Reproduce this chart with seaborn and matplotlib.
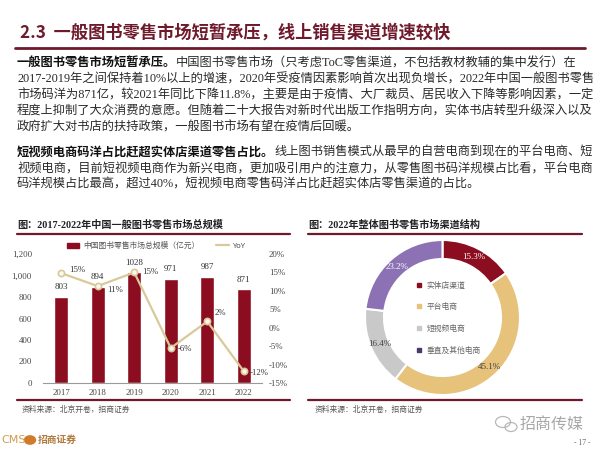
import matplotlib
matplotlib.use("Agg")
import matplotlib.pyplot as plt
import seaborn as sns
import numpy as np
from matplotlib.patches import Patch, Ellipse
from matplotlib.lines import Line2D

sns.set_theme(style="white")
CJK = "Noto Sans CJK SC"
SERIF = ["Liberation Serif", CJK]
plt.rcParams["font.family"] = [CJK, "DejaVu Sans"]

# ---------------- data ----------------
years = ["2017", "2018", "2019", "2020", "2021", "2022"]
market = [803, 894, 1028, 971, 987, 871]
yoy = [14.8, 11.3, 15.0, -5.5, 1.7, -11.8]
yoy_labels = ["15%", "11%", "15%", "-6%", "2%", "-12%"]
left_ticks = [0, 200, 400, 600, 800, 1000, 1200]
right_ticks = [-15, -10, -5, 0, 5, 10, 15, 20]

channels = ["实体店渠道", "平台电商", "短视频电商", "垂直及其他电商"]
shares = [15.3, 45.1, 16.4, 23.2]

RED = "#8c0d1f"
MAROON = "#6e1a2c"
TAN = "#d9c99a"
GOLD = "#e7c27b"
GRAY = "#c9c9c9"
PURPLE = "#8d71b5"
TXT = "#2a2a2a"

W, H = 600, 450
fig = plt.figure(figsize=(6, 4.5), dpi=100)
fig.patch.set_facecolor("white")


def fx(x):
    return x / W


def fy(y):
    return 1 - y / H


def hline(x0, x1, y, color=MAROON, lw=1.6):
    fig.add_artist(Line2D([fx(x0), fx(x1)], [fy(y), fy(y)], color=color, lw=lw,
                          transform=fig.transFigure))


# ---------------- header ----------------
fig.text(fx(20), fy(33), "2.3  一般图书零售市场短暂承压，线上销售渠道增速较快",
         fontsize=12.4, fontweight="bold", color=MAROON, va="center", ha="left",
         family=[CJK, "DejaVu Sans"])
hline(15, 585, 48, lw=2)

# ---------------- body text ----------------
renderer = fig.canvas.get_renderer()
BODY_FS = 8.8


def para_line(y, text, bold=None):
    x = fx(17)
    if bold:
        t = fig.text(x, fy(y), bold, fontsize=BODY_FS, fontweight="bold", color="#111",
                     va="center", ha="left", family=SERIF)
        bb = t.get_window_extent(renderer=renderer)
        x = bb.x1 / fig.bbox.width
    fig.text(x, fy(y), text, fontsize=BODY_FS, color=TXT, va="center", ha="left",
             family=SERIF)


para_line(63, "中国图书零售市场（只考虑ToC零售渠道，不包括教材教辅的集中发行）在",
          bold="一般图书零售市场短暂承压。")
para_line(79, "2017-2019年之间保持着10%以上的增速，2020年受疫情因素影响首次出现负增长，2022年中国一般图书零售")
para_line(95, "市场码洋为871亿，较2021年同比下降11.8%，主要是由于疫情、大厂裁员、居民收入下降等影响因素，一定")
para_line(111, "程度上抑制了大众消费的意愿。但随着二十大报告对新时代出版工作指明方向，实体书店转型升级深入以及")
para_line(127, "政府扩大对书店的扶持政策，一般图书市场有望在疫情后回暖。")
para_line(153, "线上图书销售模式从最早的自营电商到现在的平台电商、短",
          bold="短视频电商码洋占比赶超实体店渠道零售占比。")
para_line(169, "视频电商，目前短视频电商作为新兴电商，更加吸引用户的注意力，从零售图书码洋规模占比看，平台电商")
para_line(185, "码洋规模占比最高，超过40%，短视频电商零售码洋占比赶超实体店零售渠道的占比。")

# ---------------- left chart ----------------
fig.text(fx(17), fy(225), "图：2017-2022年中国一般图书零售市场总规模", fontsize=7.3,
         fontweight="bold", color="#222", va="center", ha="left", family=SERIF)
hline(17, 290, 234)

ax = fig.add_axes([fx(43), fy(383), fx(262) - fx(43), (383 - 254) / H])
sns.barplot(x=years, y=market, color=RED, saturation=1, width=0.38, ax=ax)
ax.set_ylim(0, 1200)
ax.set_yticks(left_ticks)
ax.set_yticklabels([f"{v:,}" for v in left_ticks])
ax.set_xlabel("")
ax.set_ylabel("")
for s in ["top", "right", "left"]:
    ax.spines[s].set_visible(False)
ax.spines["bottom"].set_color("#9a9a9a")
ax.spines["bottom"].set_linewidth(0.8)
ax.tick_params(axis="both", length=0, labelsize=6.3, colors="#444")
ax.tick_params(axis="y", pad=8)
ax.tick_params(axis="x", pad=4)
for lab in ax.get_xticklabels() + ax.get_yticklabels():
    lab.set_family(SERIF)
for i, v in enumerate(market):
    ax.annotate(str(v), (i, v), xytext=(0, 4), textcoords="offset points",
                ha="center", va="bottom", fontsize=6.5, color="#333", family=SERIF)

ax2 = ax.twinx()
sns.pointplot(x=years, y=yoy, ax=ax2, color=TAN, markers="o", markersize=4.5,
              linewidth=1.6, markerfacecolor="#fbf6f0", markeredgecolor=TAN,
              markeredgewidth=1.2)
ax2.set_ylim(-15, 20)
ax2.set_yticks(right_ticks)
ax2.set_yticklabels([f"{v}%" for v in right_ticks])
ax2.set_ylabel("")
for s in ["top", "right", "left", "bottom"]:
    ax2.spines[s].set_visible(False)
ax2.tick_params(axis="y", length=0, labelsize=6.3, colors="#444", pad=5)
for lab in ax2.get_yticklabels():
    lab.set_family(SERIF)
ax.set_xlim(-0.5, 5.5)
offsets = [(6, 2), (7, -3), (6, 0), (5, -1), (5, 6), (4, -1)]
for i, (v, lab) in enumerate(zip(yoy, yoy_labels)):
    dx, dy = offsets[i]
    ax2.annotate(lab, (i, v), xytext=(dx, dy), textcoords="offset points",
                 ha="left", va="center", fontsize=6.3, color="#333", family=SERIF)

handles = [Patch(facecolor=RED, edgecolor=RED),
           Line2D([], [], color=TAN, lw=1.6)]
fig.legend(handles, ["中国图书零售市场总规模（亿元）", "YoY"], loc="center",
           bbox_to_anchor=(fx(156), fy(246)), bbox_transform=fig.transFigure, ncol=2,
           frameon=False, fontsize=5.6, handlelength=1.6, handleheight=0.7,
           columnspacing=2.2, handletextpad=0.5, labelcolor="#555")

hline(17, 290, 400)
fig.text(fx(22), fy(410), "资料来源：北京开卷，招商证券", fontsize=5.6, color="#555",
         va="center", ha="left")

# ---------------- right chart ----------------
fig.text(fx(308), fy(225), "图：2022年整体图书零售市场渠道结构", fontsize=7.3,
         fontweight="bold", color="#222", va="center", ha="left", family=SERIF)
hline(308, 582, 234)

R = 80
axp = fig.add_axes([fx(442.5 - R), fy(317.5 + R), 2 * R / W, 2 * R / H])
wedges, _ = axp.pie(shares, colors=[RED, GOLD, GRAY, PURPLE], startangle=90,
                    counterclock=False, radius=77.5 / R,
                    wedgeprops=dict(width=19 / R, edgecolor="white", linewidth=1.5))
axp.set_xlim(-1, 1)
axp.set_ylim(-1, 1)
axp.set_aspect("equal")
axp.axis("off")
lab_colors = ["white", "#444", "#444", "white"]
rmid = (77.5 - 9.5) / R
for w, s, c in zip(wedges, shares, lab_colors):
    ang = np.deg2rad((w.theta1 + w.theta2) / 2)
    axp.text(rmid * np.cos(ang), rmid * np.sin(ang), f"{s}%", ha="center",
             va="center", fontsize=6.5, color=c, family=SERIF)

leg_handles = [Line2D([], [], marker="s", ls="", color=c, markersize=2.2)
               for c in [RED, GOLD, GRAY, "#4a3a6a"]]
fig.legend(leg_handles, channels, loc="center left",
           bbox_to_anchor=(fx(410), fy(318)), bbox_transform=fig.transFigure,
           frameon=False, fontsize=5.6, labelspacing=1.75, handlelength=0.6,
           handletextpad=0.6, labelcolor="#666")

hline(308, 582, 400)
fig.text(fx(315), fy(410), "资料来源：北京开卷，招商证券", fontsize=5.6, color="#555",
         va="center", ha="left")

# ---------------- footer ----------------
fig.text(fx(520), fy(424), "招商传媒", fontsize=11.5, color="#a8a8a8", va="center",
         ha="left")
# wechat-like icon drawn as two outlined bubbles
fig.add_artist(Ellipse((fx(503), fy(422)), 15 / W, 11 / H, transform=fig.transFigure,
                       fill=False, edgecolor="#b8b8b8", lw=0.9))
fig.add_artist(Ellipse((fx(511), fy(427)), 12 / W, 9 / H, transform=fig.transFigure,
                       fill=False, edgecolor="#b8b8b8", lw=0.9))
fig.text(fx(590), fy(443), "- 17 -", fontsize=5.5, color="#666", va="center",
         ha="right", family=SERIF)
fig.text(fx(1), fy(440), "CMS", fontsize=8, color="#d39a4e", va="center", ha="left",
         family=["DejaVu Sans"])
fig.add_artist(plt.Circle((fx(30), fy(440)), 5.5 / W, transform=fig.transFigure,
                          color="#d07a2a"))
fig.text(fx(38), fy(440), "招商证券", fontsize=7, color="#b07a3e", va="center",
         ha="left", fontweight="bold")

fig.savefig("out.png", dpi=100, facecolor="white")
